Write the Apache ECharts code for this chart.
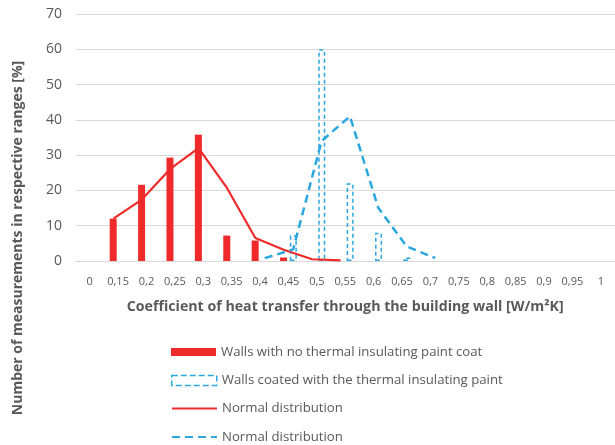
<!DOCTYPE html>
<html><head><meta charset="utf-8">
<script src="https://cdn.jsdelivr.net/npm/echarts@6/dist/echarts.min.js"></script>
<style>html,body{margin:0;padding:0;background:#fff}#c{width:615px;height:445px}</style>
</head><body><div id="c"></div>
<script>
const categories = ['0','0,15','0,2','0,25','0,3','0,35','0,4','0,45','0,5','0,55','0,6','0,65','0,7','0,75','0,8','0,85','0,9','0,95','1'];
const uncoatedBars = [null,12,21.6,29.3,35.8,7.2,5.8,1.0,null,null,null,null,null,null,null,null,null,null,null];
const coatedBars   = [null,null,null,null,null,null,null,7.3,60,22,8,1,null,null,null,null,null,null,null];
const uncoatedNormal = [null,12,17.4,26.1,32,20.7,6.5,3.2,0.5,0.2,null,null,null,null,null,null,null,null,null];
const coatedNormal   = [null,null,null,null,null,null,0.8,3.3,34,41,15,4.1,0.85,null,null,null,null,null,null];
const yTicks = {min:0, max:70, interval:10};
const legendNames = ['Walls with no thermal insulating paint coat','Walls coated with the thermal insulating paint','Normal distribution','Normal distribution'];

const RED = '#ee2a2a', BLUE = '#2ba6de', TXT = '#595959', GRID = '#d9d9d9';
const SHIFT = 0.166;
const FONT = 'Open Sans';
const KEYS = ['a','b','c','d'];
const coatedBarStyle = {color:'rgba(255,255,255,0)', borderColor:BLUE, borderWidth:1.5, borderType:[4,3]};
function toXY(arr, shift){
  const out = [];
  arr.forEach((v,i)=>{ if(v!=null) out.push([i+shift, v]); });
  return out;
}
const legendCenters = [352, 380.5, 408.5, 437];
const legends = KEYS.map((k,i)=>{
  const l = {
    orient:'vertical', left:171, top:legendCenters[i]-8, padding:0,
    itemWidth:45, itemHeight:(i===1?10:8),
    textStyle:{color:TXT, fontSize:13.2, lineHeight:16, fontFamily:FONT},
    formatter:function(){ return legendNames[i]; }
  };
  if(i>=2){ l.data=[k]; l.itemStyle={opacity:0}; }
  else if(i===1){ l.data=[{name:k, icon:'rect', itemStyle:{color:'rgba(255,255,255,0)', borderColor:BLUE, borderWidth:1.5, borderType:[6,3]}}]; }
  else { l.data=[{name:k, icon:'rect'}]; }
  return l;
});
const chart = echarts.init(document.getElementById('c'), null, {renderer:'canvas'});
chart.setOption({
  animation:false,
  textStyle:{fontFamily:FONT},
  grid:{left:75.5, top:14, width:549, bottom:184, containLabel:false},
  xAxis:[{
    type:'category', data:categories, boundaryGap:true,
    axisLine:{show:true, lineStyle:{color:GRID, width:1}},
    axisTick:{show:false},
    axisLabel:{color:TXT, fontSize:11, margin:15, interval:0, fontFamily:FONT},
    name:'Coefficient of heat transfer through the building wall [W/m²K]',
    nameLocation:'middle', nameGap:39,
    nameTextStyle:{color:TXT, fontSize:14.2, fontWeight:'bold', fontFamily:FONT}
  },{
    type:'value', min:-0.5, max:18.5, show:false
  }],
  yAxis:{
    type:'value', min:yTicks.min, max:yTicks.max, interval:yTicks.interval,
    axisLine:{show:false}, axisTick:{show:false},
    splitLine:{lineStyle:{color:GRID, width:1}},
    axisLabel:{color:TXT, fontSize:14, margin:13.5, fontFamily:FONT}
  },
  graphic:[{
    type:'text', x:18, y:238, rotation:Math.PI/2,
    style:{text:'Number of measurements in respective ranges [%]', fill:TXT,
      font:'bold 14px "Open Sans"', textAlign:'center', textVerticalAlign:'middle'}
  }],
  legend:legends,
  series:[{
    name:'a', type:'bar', data:uncoatedBars, barWidth:7, barGap:'40%',
    itemStyle:{color:RED}
  },{
    name:'b', type:'bar', data:coatedBars, barWidth:7, barGap:'40%',
    itemStyle:coatedBarStyle
  },{
    name:'c', type:'line', xAxisIndex:1, data:toXY(uncoatedNormal,-SHIFT),
    symbol:'none', lineStyle:{color:RED, width:2.2}, itemStyle:{color:RED}
  },{
    name:'d', type:'line', xAxisIndex:1, data:toXY(coatedNormal,SHIFT),
    symbol:'none', lineStyle:{color:BLUE, width:2.5, type:[8,5]}, itemStyle:{color:BLUE}
  }]
});
</script></body></html>
